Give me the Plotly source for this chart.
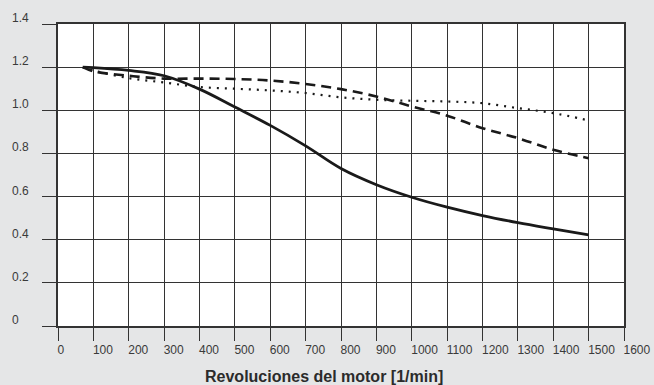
import plotly.graph_objects as go

rpm = [70, 100, 200, 300, 400, 500, 600, 700, 800, 900, 1000, 1100, 1200, 1300, 1400, 1500]
solid = [1.20, 1.198, 1.185, 1.16, 1.098, 1.015, 0.93, 0.835, 0.73, 0.655, 0.597, 0.551, 0.512, 0.479, 0.45, 0.422]
dashed = [1.20, 1.181, 1.16, 1.147, 1.147, 1.145, 1.138, 1.122, 1.098, 1.064, 1.018, 0.975, 0.917, 0.871, 0.817, 0.778]
dotted = [1.20, 1.185, 1.149, 1.129, 1.108, 1.10, 1.092, 1.08, 1.06, 1.049, 1.044, 1.041, 1.033, 1.010, 0.987, 0.953]

x_ticks = list(range(0, 1700, 100))
y_ticks = [0, 0.2, 0.4, 0.6, 0.8, 1.0, 1.2, 1.4]
y_tick_text = ["0", "0.2", "0.4", "0.6", "0.8", "1.0", "1.2", "1.4"]
x_title = "Revoluciones del motor [1/min]"
y_title = "Factor de corrección [-]"

FONT = "Liberation Sans, Arial, sans-serif"
INK = "#2b2b2b"

fig = go.Figure()
fig.add_trace(go.Scatter(x=rpm, y=solid, mode="lines", line=dict(color="#1a1a1a", width=2.8, shape="spline", smoothing=1.0), showlegend=False, hoverinfo="skip"))
fig.add_trace(go.Scatter(x=rpm, y=dashed, mode="lines", line=dict(color="#1a1a1a", width=2.6, dash="10px,6px", shape="spline", smoothing=1.0), showlegend=False, hoverinfo="skip"))
fig.add_trace(go.Scatter(x=rpm, y=dotted, mode="lines", line=dict(color="#1a1a1a", width=2.2, dash="2px,6px", shape="spline", smoothing=1.0), showlegend=False, hoverinfo="skip"))

annotations = []
for v, t in zip(y_ticks, y_tick_text):
    annotations.append(dict(x=-0.085, xref="paper", y=v, yref="y", text=t, showarrow=False,
                            xanchor="left", yanchor="middle", yshift=6,
                            font=dict(family=FONT, size=12, color="#3a3a3a")))
annotations.append(dict(x=753, xref="x", y=0, yref="paper", yshift=-50, text="<b>" + x_title + "</b>",
                        showarrow=False, xanchor="center", yanchor="middle",
                        font=dict(family=FONT, size=16, color=INK)))
annotations.append(dict(x=-0.103, xref="paper", y=1, yref="paper", yshift=24, text="<b>" + y_title + "</b>",
                        showarrow=False, xanchor="left", yanchor="bottom",
                        font=dict(family=FONT, size=14, color=INK)))

fig.update_layout(
    width=654, height=385,
    margin=dict(l=58, r=30, t=24, b=59),
    paper_bgcolor="#e5e6e7",
    plot_bgcolor="#ffffff",
    annotations=annotations,
    xaxis=dict(range=[0, 1600], tickvals=x_ticks, ticktext=[str(v) for v in x_ticks],
               showgrid=True, gridcolor="#333333", gridwidth=1, zeroline=False,
               ticks="outside", ticklen=13, tickcolor="#333333", tickwidth=1,
               ticklabelposition="outside right", tickangle=0, automargin=False,
               ticklabelstandoff=12, ticklabelshift=-2,
               tickfont=dict(family=FONT, size=12, color="#3a3a3a"),
               showline=True, linecolor="#333333", linewidth=2, mirror=True),
    yaxis=dict(range=[0, 1.4], tickvals=y_ticks, showticklabels=False, automargin=False,
               showgrid=True, gridcolor="#333333", gridwidth=1, zeroline=False,
               ticks="outside", ticklen=14, tickcolor="#333333", tickwidth=1,
               showline=True, linecolor="#333333", linewidth=2, mirror=True),
)

fig.write_html("out.html", config={"displayModeBar": False},
               post_script="document.body.style.margin='0px';document.body.style.overflow='hidden';")
